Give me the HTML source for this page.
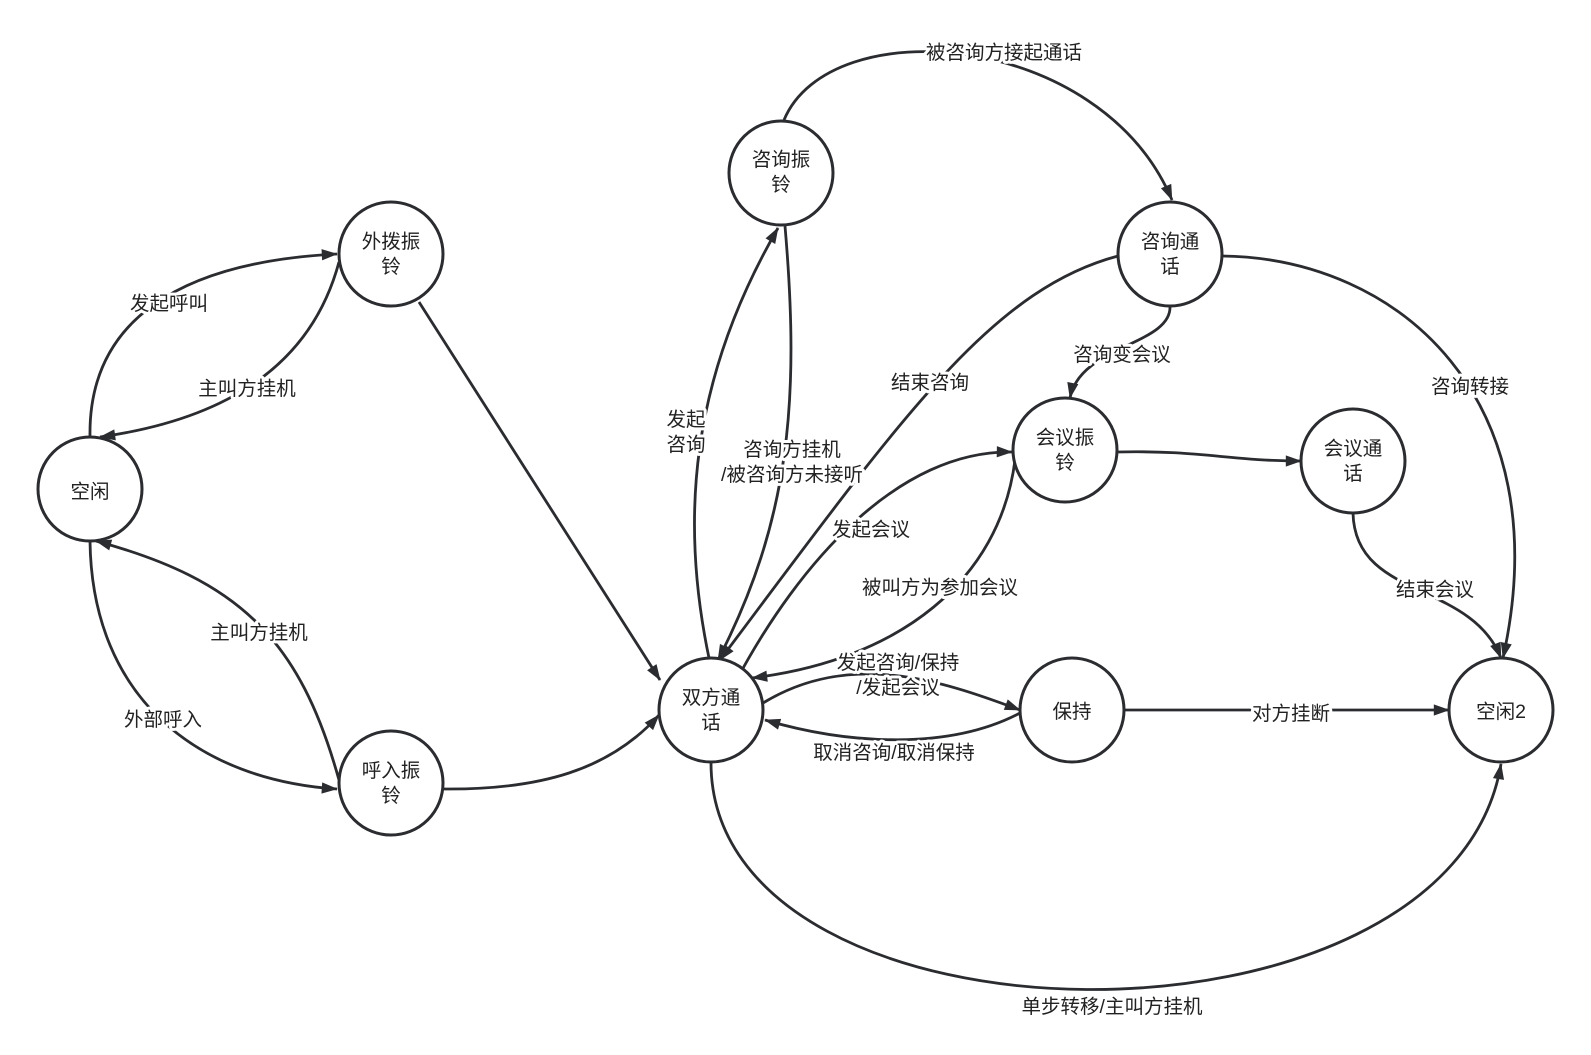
<!DOCTYPE html>
<html><head><meta charset="utf-8"><style>
html,body{margin:0;padding:0;background:#fff;}
svg text{font-family:"Liberation Sans","Noto Sans CJK SC",sans-serif;font-size:19.5px;fill:#222;text-anchor:middle;dominant-baseline:central;}
.lbl{stroke:#fff;stroke-width:6px;paint-order:stroke;stroke-linejoin:round;}
</style></head><body>
<svg width="1591" height="1050" viewBox="0 0 1591 1050" xmlns="http://www.w3.org/2000/svg">
<defs><marker id="a" viewBox="0 0 10 10" refX="9" refY="5" markerWidth="8" markerHeight="8" markerUnits="userSpaceOnUse" orient="auto" style="overflow:visible"><path d="M-10,-2 L10,5 L-10,12 Z" fill="#2a2c30"/></marker></defs>
<g fill="none" stroke="#2a2c30" stroke-width="2.8" marker-end="url(#a)">
<path d="M90,437 C88,320 180,262 337,254"/>
<path d="M339,262 C310,370 220,420 100,437"/>
<path d="M90,541 C92,700 200,780 337,789"/>
<path d="M339,780 C300,640 240,580 96,541"/>
<path d="M419,302 L660,680"/>
<path d="M443,789 C540,790 610,770 659,715"/>
<path d="M709,658 C680,520 690,380 778,228"/>
<path d="M785,226 C800,400 790,520 718,660"/>
<path d="M784,120 C830,10 1100,30 1172,200"/>
<path d="M1118,256 C990,290 900,420 720,660"/>
<path d="M1170,306 C1172,345 1080,345 1070,398"/>
<path d="M1222,256 C1400,258 1560,400 1503,658"/>
<path d="M735,683 C800,560 900,450 1012,452"/>
<path d="M1015,460 C1000,580 900,660 752,678"/>
<path d="M1117,452 C1200,450 1230,461 1301,461"/>
<path d="M1353,513 C1355,600 1470,580 1501,658"/>
<path d="M763,703 C850,650 940,680 1020,710"/>
<path d="M1020,713 C950,750 850,745 765,720"/>
<path d="M1124,710 L1449,710"/>
<path d="M711,762 C710,1060 1450,1070 1501,764"/>
</g>
<g fill="#fff" stroke="#2a2c30" stroke-width="3">
<circle cx="90" cy="489" r="52"/>
<circle cx="391" cy="254" r="52"/>
<circle cx="391" cy="783" r="52"/>
<circle cx="711" cy="710" r="52"/>
<circle cx="781" cy="173" r="52"/>
<circle cx="1170" cy="254" r="52"/>
<circle cx="1065" cy="450" r="52"/>
<circle cx="1353" cy="461" r="52"/>
<circle cx="1072" cy="710" r="52"/>
<circle cx="1501" cy="710" r="52"/>
</g>
<g>
<text x="90" y="492">空闲</text>
<text x="391" y="242">外拨振</text><text x="391" y="267">铃</text>
<text x="391" y="771">呼入振</text><text x="391" y="796">铃</text>
<text x="711" y="698">双方通</text><text x="711" y="723">话</text>
<text x="781" y="160">咨询振</text><text x="781" y="185">铃</text>
<text x="1170" y="242">咨询通</text><text x="1170" y="267">话</text>
<text x="1065" y="438">会议振</text><text x="1065" y="463">铃</text>
<text x="1353" y="449">会议通</text><text x="1353" y="474">话</text>
<text x="1072" y="712">保持</text>
<text x="1501" y="712">空闲2</text>
</g>
<g>
<text class="lbl" x="169" y="304">发起呼叫</text>
<text class="lbl" x="247" y="389">主叫方挂机</text>
<text class="lbl" x="163" y="720">外部呼入</text>
<text class="lbl" x="259" y="633">主叫方挂机</text>
<text class="lbl" x="686" y="420">发起</text><text class="lbl" x="686" y="445">咨询</text>
<text class="lbl" x="792" y="450">咨询方挂机</text><text class="lbl" x="792" y="475">/被咨询方未接听</text>
<text class="lbl" x="1004" y="53">被咨询方接起通话</text>
<text class="lbl" x="930" y="383">结束咨询</text>
<text class="lbl" x="1122" y="355">咨询变会议</text>
<text class="lbl" x="1470" y="387">咨询转接</text>
<text class="lbl" x="871" y="530">发起会议</text>
<text class="lbl" x="940" y="588">被叫方为参加会议</text>
<text class="lbl" x="1435" y="590">结束会议</text>
<text class="lbl" x="898" y="663">发起咨询/保持</text><text class="lbl" x="898" y="688">/发起会议</text>
<text class="lbl" x="894" y="753">取消咨询/取消保持</text>
<text class="lbl" x="1291" y="714">对方挂断</text>
<text class="lbl" x="1112" y="1007">单步转移/主叫方挂机</text>
</g>
</svg>
</body></html>
